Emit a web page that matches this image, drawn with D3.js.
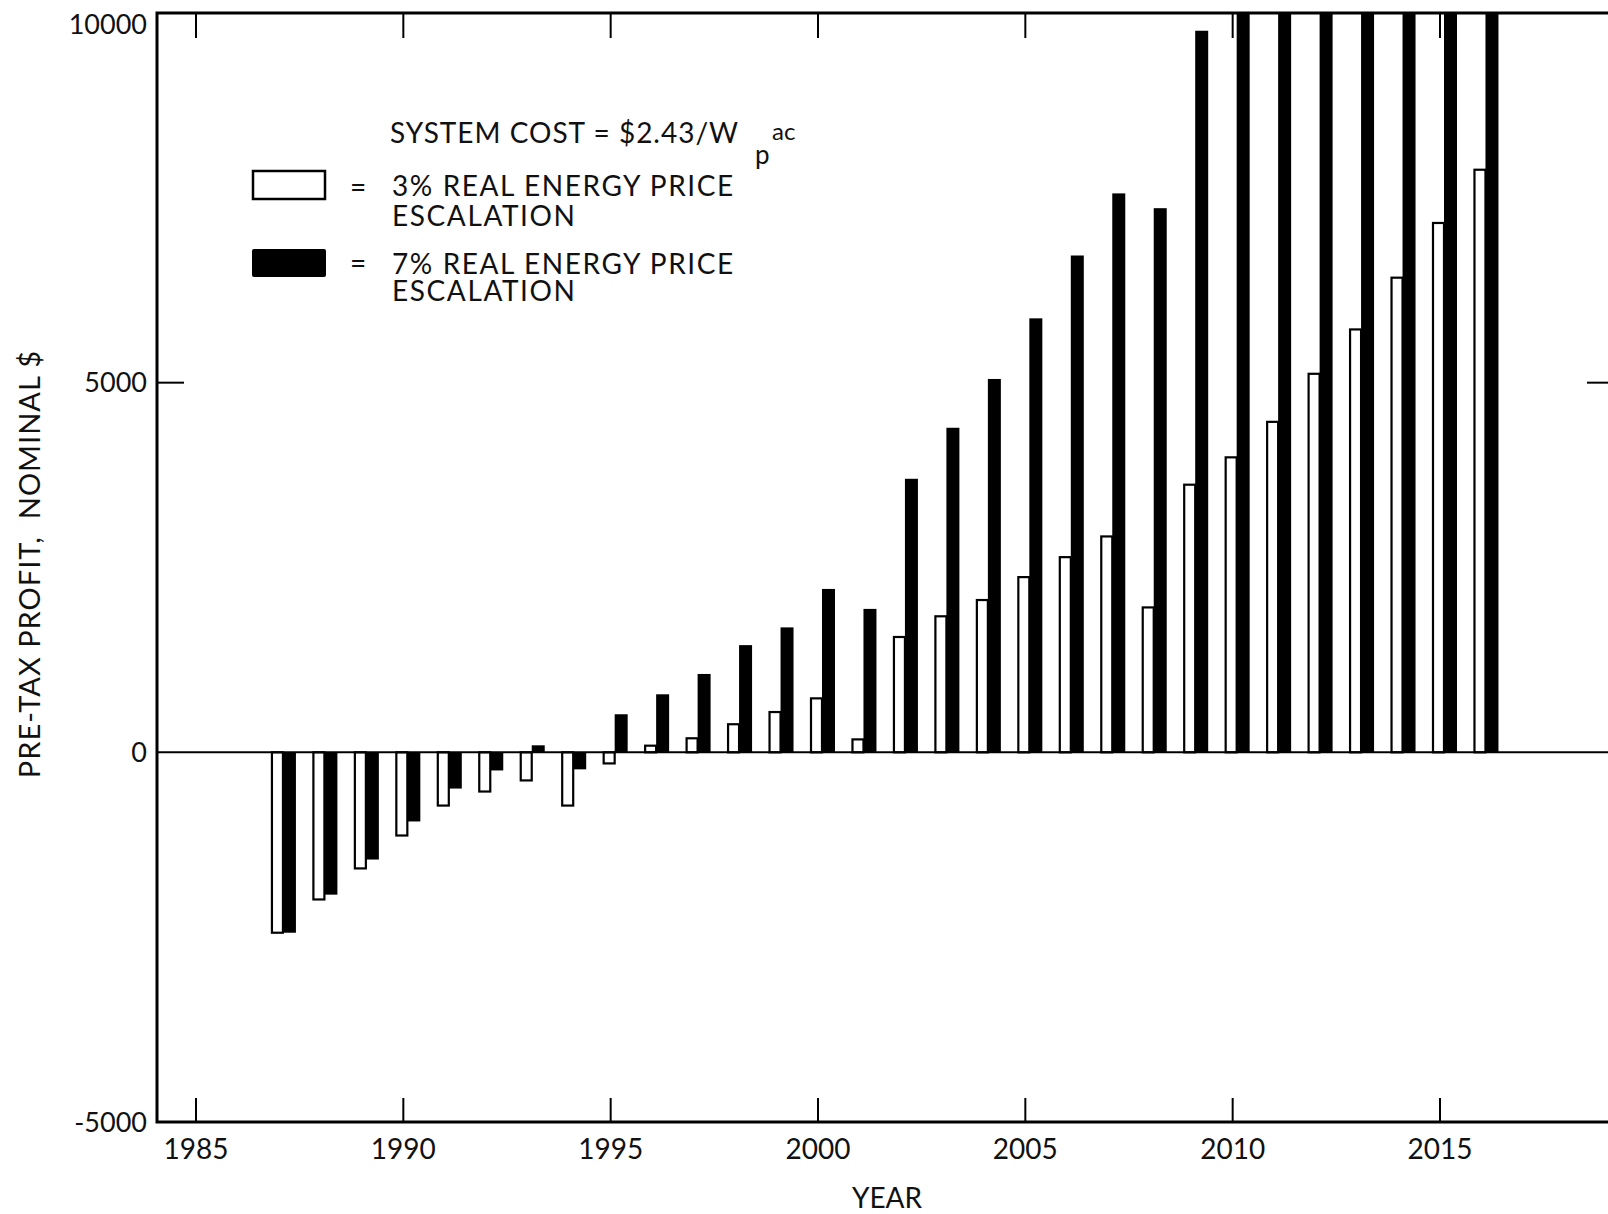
<!DOCTYPE html>
<html>
<head>
<meta charset="utf-8">
<script src="https://cdn.jsdelivr.net/npm/d3@7"></script>
<style>
  body { margin: 0; background: #fff; }
  text { font-family: Lato, "Open Sans", sans-serif; fill: #111; }
</style>
</head>
<body>
<div id="chart"></div>
<script>
// years on the x axis
var years = [1987, 1988, 1989, 1990, 1991, 1992, 1993, 1994, 1995, 1996,
             1997, 1998, 1999, 2000, 2001, 2002, 2003, 2004, 2005, 2006,
             2007, 2008, 2009, 2010, 2011, 2012, 2013, 2014, 2015, 2016];

// 3% real energy price escalation (white bars)
var low = [-2440, -1990, -1570, -1125, -720, -530, -380, -720, -150, 90,
           190, 380, 545, 730, 175, 1560, 1840, 2060, 2370, 2640,
           2920, 1960, 3620, 3990, 4470, 5120, 5720, 6420, 7160, 7880];

// 7% real energy price escalation (black bars), the last ones run off the top
var high = [-2440, -1925, -1450, -935, -490, -245, 95, -230, 515, 785,
            1060, 1450, 1690, 2210, 1940, 3700, 4390, 5050, 5870, 6720,
            7560, 7360, 9760, 10800, 11900, 13100, 14300, 15700, 17200, 18800];

var xTicks = [1985, 1990, 1995, 2000, 2005, 2010, 2015];
var yTicks = [10000, 5000, 0, -5000];

var width = 1608, height = 1214;
var pLeft = 157, pRight = 1614, pTop = 13, pBottom = 1122;

var svg = d3.select("#chart").append("svg")
    .attr("width", width)
    .attr("height", height);

var x = d3.scaleLinear().domain([1985, 2015]).range([196, 1440]);
var y = d3.scaleLinear().domain([-5000, 10000]).range([pBottom, pTop]);

var data = years.map(function (yr, i) {
    return { year: yr, low: low[i], high: high[i] };
});

// clip so the black bars stop at the top border
svg.append("defs").append("clipPath").attr("id", "plot")
  .append("rect")
    .attr("x", pLeft).attr("y", pTop)
    .attr("width", pRight - pLeft).attr("height", pBottom - pTop);

var off = 4, wWhite = 11, wBlack = 13;

var g = svg.append("g").attr("clip-path", "url(#plot)");

g.selectAll(".hi")
  .data(data)
  .enter().append("rect")
    .attr("class", "hi")
    .attr("x", function (d) { return x(d.year) + off; })
    .attr("width", wBlack)
    .attr("y", function (d) { return y(Math.max(0, d.high)); })
    .attr("height", function (d) { return Math.abs(y(d.high) - y(0)); })
    .attr("fill", "#000");

g.selectAll(".lo")
  .data(data)
  .enter().append("rect")
    .attr("class", "lo")
    .attr("x", function (d) { return x(d.year) + off - wWhite; })
    .attr("width", wWhite)
    .attr("y", function (d) { return y(Math.max(0, d.low)); })
    .attr("height", function (d) { return Math.abs(y(d.low) - y(0)); })
    .attr("fill", "#fff")
    .attr("stroke", "#000")
    .attr("stroke-width", 2.2);

// zero line
svg.append("line")
    .attr("x1", pLeft).attr("x2", pRight)
    .attr("y1", y(0)).attr("y2", y(0))
    .attr("stroke", "#000").attr("stroke-width", 2);

// frame
svg.append("rect")
    .attr("x", pLeft).attr("y", pTop)
    .attr("width", pRight - pLeft).attr("height", pBottom - pTop)
    .attr("fill", "none")
    .attr("stroke", "#000").attr("stroke-width", 3);

// x ticks, top and bottom, pointing inward
svg.selectAll(".xtb")
  .data(xTicks)
  .enter().append("line")
    .attr("x1", function (d) { return x(d); }).attr("x2", function (d) { return x(d); })
    .attr("y1", pBottom).attr("y2", pBottom - 24)
    .attr("stroke", "#000").attr("stroke-width", 2);

svg.selectAll(".xtt")
  .data(xTicks)
  .enter().append("line")
    .attr("x1", function (d) { return x(d); }).attr("x2", function (d) { return x(d); })
    .attr("y1", pTop).attr("y2", pTop + 25)
    .attr("stroke", "#000").attr("stroke-width", 2);

svg.selectAll(".xl")
  .data(xTicks)
  .enter().append("text")
    .attr("x", function (d) { return x(d); })
    .attr("y", 1159)
    .attr("text-anchor", "middle")
    .style("font-size", "28px")
    .text(function (d) { return d; });

// y ticks at 5000 on both sides
svg.append("line")
    .attr("x1", pLeft).attr("x2", pLeft + 27)
    .attr("y1", y(5000)).attr("y2", y(5000))
    .attr("stroke", "#000").attr("stroke-width", 2);
svg.append("line")
    .attr("x1", pRight).attr("x2", pRight - 27)
    .attr("y1", y(5000)).attr("y2", y(5000))
    .attr("stroke", "#000").attr("stroke-width", 2);

svg.selectAll(".yl")
  .data(yTicks)
  .enter().append("text")
    .attr("x", 147)
    .attr("y", function (d) { return Math.max(y(d), 24); })
    .attr("dy", "0.36em")
    .attr("text-anchor", "end")
    .style("font-size", "27px")
    .text(function (d) { return d; });

// axis titles
svg.append("text")
    .attr("x", 887).attr("y", 1208)
    .attr("text-anchor", "middle")
    .style("font-size", "28px")
    .text("YEAR");

svg.append("text")
    .attr("transform", "translate(40,564) rotate(-90)")
    .attr("text-anchor", "middle")
    .style("font-size", "29px")
    .style("letter-spacing", "1px")
    .style("white-space", "pre")
    .text("PRE-TAX PROFIT,  NOMINAL $");

// legend
var lg = svg.append("g").style("font-size", "28px");

lg.append("text").attr("x", 390).attr("y", 143)
    .style("letter-spacing", "1px").text("SYSTEM COST = $2.43/W");
lg.append("text").attr("x", 755).attr("y", 164).style("font-size", "26px").text("p");
lg.append("text").attr("x", 772).attr("y", 140).style("font-size", "24px").text("ac");

lg.append("rect")
    .attr("x", 253).attr("y", 171).attr("width", 72).attr("height", 28)
    .attr("fill", "#fff").attr("stroke", "#000").attr("stroke-width", 2.5);
lg.append("text").attr("x", 350).attr("y", 197).text("=");
lg.append("text").attr("x", 392).attr("y", 196)
    .style("letter-spacing", "1.6px").text("3% REAL ENERGY PRICE");
lg.append("text").attr("x", 392).attr("y", 226)
    .style("letter-spacing", "1.6px").text("ESCALATION");

lg.append("rect")
    .attr("x", 252).attr("y", 249).attr("width", 74).attr("height", 28)
    .attr("rx", 2)
    .attr("fill", "#000");
lg.append("text").attr("x", 350).attr("y", 273).text("=");
lg.append("text").attr("x", 392).attr("y", 274)
    .style("letter-spacing", "1.6px").text("7% REAL ENERGY PRICE");
lg.append("text").attr("x", 392).attr("y", 301)
    .style("letter-spacing", "1.6px").text("ESCALATION");
</script>
</body>
</html>
